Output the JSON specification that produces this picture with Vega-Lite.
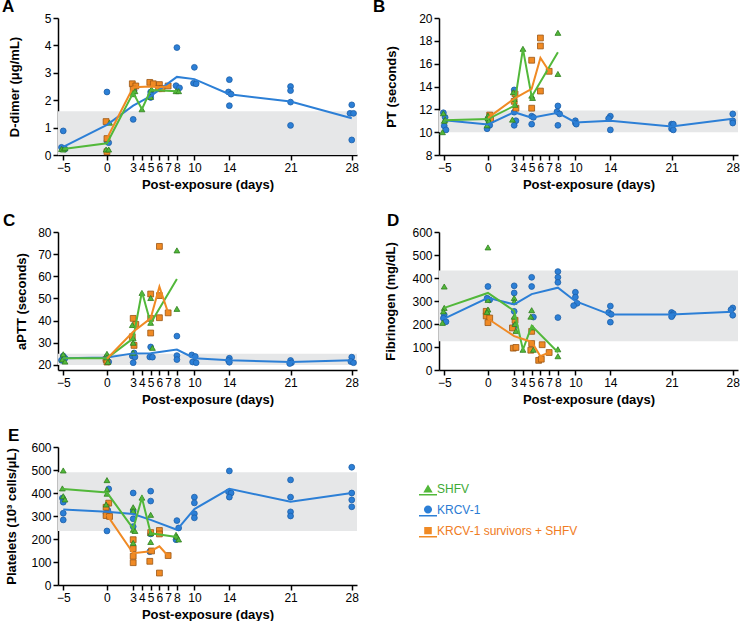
{
"$schema":"https://vega.github.io/schema/vega-lite/v6.json",
"padding":{"left":2,"top":-2,"right":0,"bottom":0},
"background":"white",
"config":{
 "view":{"stroke":null},
 "font":"Liberation Sans",
 "axis":{"grid":false,"domainColor":"#000","domainWidth":1.5,"tickColor":"#000","tickWidth":1.5,"tickSize":5,"labelColor":"#000","labelFont":"Liberation Sans","labelFontSize":12,"labelPadding":2,"titleFont":"Liberation Sans","titleFontSize":13,"titleFontWeight":"bold","titleColor":"#000","labelOverlap":false,"labelFlush":false},
 "axisX":{"titlePadding":5},
 "title":{"anchor":"start","frame":"group","font":"Liberation Sans","fontSize":17,"fontWeight":"bold","color":"#000","offset":-4}
},
"datasets":{
"bands":[{"p":"A","v":0,"v2":1.6},{"p":"B","v":10,"v2":11.9},{"p":"C","v":20,"v2":25},{"p":"D","v":125,"v2":433},{"p":"E","v":235,"v2":490}],
"pts":[
{"p":"A","g":"KRCV-1","d":-5,"v":0.88},{"p":"A","g":"KRCV-1","d":-5.2,"v":0.28},{"p":"A","g":"KRCV-1","d":-4.8,"v":0.22},{"p":"A","g":"KRCV-1","d":0,"v":2.3},{"p":"A","g":"KRCV-1","d":0,"v":0.5},{"p":"A","g":"KRCV-1","d":0.2,"v":0.45},{"p":"A","g":"KRCV-1","d":3,"v":1.3},{"p":"A","g":"KRCV-1","d":3.1,"v":2.35},{"p":"A","g":"KRCV-1","d":5,"v":2.3},{"p":"A","g":"KRCV-1","d":5,"v":2.2},{"p":"A","g":"KRCV-1","d":5,"v":2.1},{"p":"A","g":"KRCV-1","d":8,"v":3.92},{"p":"A","g":"KRCV-1","d":7.9,"v":2.53},{"p":"A","g":"KRCV-1","d":8.3,"v":2.45},{"p":"A","g":"KRCV-1","d":10,"v":3.2},{"p":"A","g":"KRCV-1","d":9.9,"v":2.62},{"p":"A","g":"KRCV-1","d":10.2,"v":2.6},{"p":"A","g":"KRCV-1","d":14,"v":2.75},{"p":"A","g":"KRCV-1","d":13.9,"v":2.3},{"p":"A","g":"KRCV-1","d":14.2,"v":2.22},{"p":"A","g":"KRCV-1","d":14,"v":1.8},{"p":"A","g":"KRCV-1","d":21,"v":2.5},{"p":"A","g":"KRCV-1","d":21,"v":2.35},{"p":"A","g":"KRCV-1","d":21,"v":1.93},{"p":"A","g":"KRCV-1","d":21,"v":1.08},{"p":"A","g":"KRCV-1","d":28,"v":1.83},{"p":"A","g":"KRCV-1","d":27.8,"v":1.52},{"p":"A","g":"KRCV-1","d":28.2,"v":1.52},{"p":"A","g":"KRCV-1","d":28,"v":0.55},
{"p":"A","g":"KRCV-1 survivors + SHFV","d":-0.1,"v":1.22},{"p":"A","g":"KRCV-1 survivors + SHFV","d":0,"v":0.6},{"p":"A","g":"KRCV-1 survivors + SHFV","d":0,"v":0.12},{"p":"A","g":"KRCV-1 survivors + SHFV","d":2.9,"v":2.6},{"p":"A","g":"KRCV-1 survivors + SHFV","d":3.3,"v":2.52},{"p":"A","g":"KRCV-1 survivors + SHFV","d":3,"v":2.4},{"p":"A","g":"KRCV-1 survivors + SHFV","d":4.9,"v":2.65},{"p":"A","g":"KRCV-1 survivors + SHFV","d":5.3,"v":2.6},{"p":"A","g":"KRCV-1 survivors + SHFV","d":6,"v":2.57},{"p":"A","g":"KRCV-1 survivors + SHFV","d":5.9,"v":2.42},{"p":"A","g":"KRCV-1 survivors + SHFV","d":6.3,"v":2.42},{"p":"A","g":"KRCV-1 survivors + SHFV","d":7,"v":2.52},
{"p":"A","g":"SHFV","d":-5.2,"v":0.22},{"p":"A","g":"SHFV","d":-5,"v":0.2},{"p":"A","g":"SHFV","d":-4.8,"v":0.25},{"p":"A","g":"SHFV","d":0.3,"v":1.18},{"p":"A","g":"SHFV","d":-0.1,"v":0.2},{"p":"A","g":"SHFV","d":0.2,"v":0.2},{"p":"A","g":"SHFV","d":2.9,"v":2.28},{"p":"A","g":"SHFV","d":3,"v":2.22},{"p":"A","g":"SHFV","d":3.2,"v":2.33},{"p":"A","g":"SHFV","d":4,"v":1.67},{"p":"A","g":"SHFV","d":5.1,"v":2.4},{"p":"A","g":"SHFV","d":5,"v":2.12},{"p":"A","g":"SHFV","d":7.9,"v":2.33},{"p":"A","g":"SHFV","d":8.2,"v":2.33},

{"p":"B","g":"KRCV-1","d":-5.1,"v":11.7},{"p":"B","g":"KRCV-1","d":-4.9,"v":11.3},{"p":"B","g":"KRCV-1","d":-5,"v":10.55},{"p":"B","g":"KRCV-1","d":-4.8,"v":10.2},{"p":"B","g":"KRCV-1","d":0,"v":11.17},{"p":"B","g":"KRCV-1","d":0.1,"v":10.7},{"p":"B","g":"KRCV-1","d":-0.1,"v":10.3},{"p":"B","g":"KRCV-1","d":0.2,"v":10.6},{"p":"B","g":"KRCV-1","d":3,"v":13.7},{"p":"B","g":"KRCV-1","d":3,"v":11.75},{"p":"B","g":"KRCV-1","d":3.2,"v":11.0},{"p":"B","g":"KRCV-1","d":3,"v":10.6},{"p":"B","g":"KRCV-1","d":5,"v":11.4},{"p":"B","g":"KRCV-1","d":5.2,"v":11.3},{"p":"B","g":"KRCV-1","d":5,"v":10.7},{"p":"B","g":"KRCV-1","d":8,"v":12.3},{"p":"B","g":"KRCV-1","d":7.9,"v":11.8},{"p":"B","g":"KRCV-1","d":8.2,"v":11.6},{"p":"B","g":"KRCV-1","d":8,"v":10.6},{"p":"B","g":"KRCV-1","d":10,"v":11.0},{"p":"B","g":"KRCV-1","d":10,"v":10.8},{"p":"B","g":"KRCV-1","d":10.1,"v":10.7},{"p":"B","g":"KRCV-1","d":14,"v":11.4},{"p":"B","g":"KRCV-1","d":13.8,"v":11.2},{"p":"B","g":"KRCV-1","d":14,"v":10.2},{"p":"B","g":"KRCV-1","d":21,"v":10.7},{"p":"B","g":"KRCV-1","d":21.2,"v":10.7},{"p":"B","g":"KRCV-1","d":21,"v":10.3},{"p":"B","g":"KRCV-1","d":21.2,"v":10.2},{"p":"B","g":"KRCV-1","d":28,"v":11.6},{"p":"B","g":"KRCV-1","d":28,"v":11.0},{"p":"B","g":"KRCV-1","d":28,"v":10.8},
{"p":"B","g":"KRCV-1 survivors + SHFV","d":0.2,"v":11.5},{"p":"B","g":"KRCV-1 survivors + SHFV","d":0.3,"v":11.1},{"p":"B","g":"KRCV-1 survivors + SHFV","d":3.1,"v":13.35},{"p":"B","g":"KRCV-1 survivors + SHFV","d":3,"v":12.7},{"p":"B","g":"KRCV-1 survivors + SHFV","d":3.2,"v":12.1},{"p":"B","g":"KRCV-1 survivors + SHFV","d":5,"v":16.3},{"p":"B","g":"KRCV-1 survivors + SHFV","d":5,"v":12.1},{"p":"B","g":"KRCV-1 survivors + SHFV","d":6,"v":18.25},{"p":"B","g":"KRCV-1 survivors + SHFV","d":6,"v":17.55},{"p":"B","g":"KRCV-1 survivors + SHFV","d":6,"v":13.6},{"p":"B","g":"KRCV-1 survivors + SHFV","d":7,"v":15.33},
{"p":"B","g":"SHFV","d":-5.1,"v":11.65},{"p":"B","g":"SHFV","d":-4.9,"v":11.1},{"p":"B","g":"SHFV","d":-5,"v":11.0},{"p":"B","g":"SHFV","d":-5.2,"v":10.0},{"p":"B","g":"SHFV","d":0,"v":11.45},{"p":"B","g":"SHFV","d":0,"v":11.2},{"p":"B","g":"SHFV","d":0.1,"v":11.0},{"p":"B","g":"SHFV","d":-0.1,"v":10.6},{"p":"B","g":"SHFV","d":2.9,"v":13.5},{"p":"B","g":"SHFV","d":3,"v":12.9},{"p":"B","g":"SHFV","d":3.1,"v":12.4},{"p":"B","g":"SHFV","d":2.8,"v":11.1},{"p":"B","g":"SHFV","d":4,"v":17.3},{"p":"B","g":"SHFV","d":5,"v":13.2},{"p":"B","g":"SHFV","d":5.1,"v":13.0},{"p":"B","g":"SHFV","d":8,"v":18.7},{"p":"B","g":"SHFV","d":8,"v":15.1},

{"p":"C","g":"KRCV-1","d":-5,"v":24},{"p":"C","g":"KRCV-1","d":-5.2,"v":22.1},{"p":"C","g":"KRCV-1","d":-4.8,"v":23},{"p":"C","g":"KRCV-1","d":0,"v":23.6},{"p":"C","g":"KRCV-1","d":-0.1,"v":22.1},{"p":"C","g":"KRCV-1","d":0.2,"v":21.4},{"p":"C","g":"KRCV-1","d":3.1,"v":25.4},{"p":"C","g":"KRCV-1","d":2.9,"v":24},{"p":"C","g":"KRCV-1","d":3.2,"v":23.6},{"p":"C","g":"KRCV-1","d":3,"v":21},{"p":"C","g":"KRCV-1","d":5,"v":28.1},{"p":"C","g":"KRCV-1","d":4.9,"v":23.6},{"p":"C","g":"KRCV-1","d":5.2,"v":23.5},{"p":"C","g":"KRCV-1","d":8,"v":33},{"p":"C","g":"KRCV-1","d":8,"v":24.2},{"p":"C","g":"KRCV-1","d":8,"v":22.4},{"p":"C","g":"KRCV-1","d":9.7,"v":24.5},{"p":"C","g":"KRCV-1","d":10.1,"v":23.8},{"p":"C","g":"KRCV-1","d":9.8,"v":21.3},{"p":"C","g":"KRCV-1","d":10.2,"v":21.0},{"p":"C","g":"KRCV-1","d":14,"v":23},{"p":"C","g":"KRCV-1","d":13.9,"v":22},{"p":"C","g":"KRCV-1","d":14,"v":21.2},{"p":"C","g":"KRCV-1","d":21,"v":22.0},{"p":"C","g":"KRCV-1","d":21.1,"v":21.0},{"p":"C","g":"KRCV-1","d":20.9,"v":20.6},{"p":"C","g":"KRCV-1","d":28,"v":23.5},{"p":"C","g":"KRCV-1","d":27.9,"v":21.5},{"p":"C","g":"KRCV-1","d":28.2,"v":21.0},
{"p":"C","g":"KRCV-1 survivors + SHFV","d":-0.1,"v":22.5},{"p":"C","g":"KRCV-1 survivors + SHFV","d":0,"v":21.3},{"p":"C","g":"KRCV-1 survivors + SHFV","d":3,"v":41},{"p":"C","g":"KRCV-1 survivors + SHFV","d":3.3,"v":38.3},{"p":"C","g":"KRCV-1 survivors + SHFV","d":2.9,"v":32.7},{"p":"C","g":"KRCV-1 survivors + SHFV","d":3.1,"v":28.8},{"p":"C","g":"KRCV-1 survivors + SHFV","d":5,"v":52},{"p":"C","g":"KRCV-1 survivors + SHFV","d":5,"v":41},{"p":"C","g":"KRCV-1 survivors + SHFV","d":5,"v":34.4},{"p":"C","g":"KRCV-1 survivors + SHFV","d":6,"v":73.5},{"p":"C","g":"KRCV-1 survivors + SHFV","d":6,"v":51.3},{"p":"C","g":"KRCV-1 survivors + SHFV","d":6,"v":41.3},{"p":"C","g":"KRCV-1 survivors + SHFV","d":7,"v":43.5},
{"p":"C","g":"SHFV","d":-5,"v":24.8},{"p":"C","g":"SHFV","d":-5.1,"v":22.5},{"p":"C","g":"SHFV","d":-4.8,"v":21.5},{"p":"C","g":"SHFV","d":0,"v":25},{"p":"C","g":"SHFV","d":0,"v":23.4},{"p":"C","g":"SHFV","d":0.1,"v":21.3},{"p":"C","g":"SHFV","d":2.9,"v":38},{"p":"C","g":"SHFV","d":3,"v":32},{"p":"C","g":"SHFV","d":3,"v":30},{"p":"C","g":"SHFV","d":3,"v":25.5},{"p":"C","g":"SHFV","d":4,"v":52.5},{"p":"C","g":"SHFV","d":5,"v":50.2},{"p":"C","g":"SHFV","d":5,"v":39},{"p":"C","g":"SHFV","d":5.2,"v":27.7},{"p":"C","g":"SHFV","d":8,"v":71.7},{"p":"C","g":"SHFV","d":8,"v":45.3},

{"p":"D","g":"KRCV-1","d":-5,"v":240},{"p":"D","g":"KRCV-1","d":-5.1,"v":225},{"p":"D","g":"KRCV-1","d":-4.8,"v":210},{"p":"D","g":"KRCV-1","d":0,"v":363},{"p":"D","g":"KRCV-1","d":-0.1,"v":312},{"p":"D","g":"KRCV-1","d":0.2,"v":305},{"p":"D","g":"KRCV-1","d":3,"v":366},{"p":"D","g":"KRCV-1","d":3,"v":335},{"p":"D","g":"KRCV-1","d":3,"v":255},{"p":"D","g":"KRCV-1","d":3.1,"v":193},{"p":"D","g":"KRCV-1","d":5,"v":403},{"p":"D","g":"KRCV-1","d":5,"v":363},{"p":"D","g":"KRCV-1","d":5.2,"v":230},{"p":"D","g":"KRCV-1","d":8,"v":428},{"p":"D","g":"KRCV-1","d":8,"v":403},{"p":"D","g":"KRCV-1","d":8,"v":381},{"p":"D","g":"KRCV-1","d":8,"v":228},{"p":"D","g":"KRCV-1","d":10,"v":338},{"p":"D","g":"KRCV-1","d":10,"v":317},{"p":"D","g":"KRCV-1","d":10.2,"v":290},{"p":"D","g":"KRCV-1","d":9.8,"v":280},{"p":"D","g":"KRCV-1","d":14,"v":278},{"p":"D","g":"KRCV-1","d":13.8,"v":250},{"p":"D","g":"KRCV-1","d":14.1,"v":242},{"p":"D","g":"KRCV-1","d":14,"v":208},{"p":"D","g":"KRCV-1","d":21,"v":250},{"p":"D","g":"KRCV-1","d":21.2,"v":245},{"p":"D","g":"KRCV-1","d":21.1,"v":238},{"p":"D","g":"KRCV-1","d":21,"v":232},{"p":"D","g":"KRCV-1","d":28,"v":270},{"p":"D","g":"KRCV-1","d":27.8,"v":262},{"p":"D","g":"KRCV-1","d":28,"v":238},
{"p":"D","g":"KRCV-1 survivors + SHFV","d":-0.2,"v":255},{"p":"D","g":"KRCV-1 survivors + SHFV","d":-0.2,"v":235},{"p":"D","g":"KRCV-1 survivors + SHFV","d":0.2,"v":226},{"p":"D","g":"KRCV-1 survivors + SHFV","d":0,"v":206},{"p":"D","g":"KRCV-1 survivors + SHFV","d":2.8,"v":183},{"p":"D","g":"KRCV-1 survivors + SHFV","d":3.1,"v":216},{"p":"D","g":"KRCV-1 survivors + SHFV","d":2.9,"v":95},{"p":"D","g":"KRCV-1 survivors + SHFV","d":3.2,"v":98},{"p":"D","g":"KRCV-1 survivors + SHFV","d":5,"v":168},{"p":"D","g":"KRCV-1 survivors + SHFV","d":5,"v":115},{"p":"D","g":"KRCV-1 survivors + SHFV","d":4.9,"v":86},{"p":"D","g":"KRCV-1 survivors + SHFV","d":5.8,"v":42},{"p":"D","g":"KRCV-1 survivors + SHFV","d":6.1,"v":47},{"p":"D","g":"KRCV-1 survivors + SHFV","d":6.2,"v":110},{"p":"D","g":"KRCV-1 survivors + SHFV","d":7,"v":76},
{"p":"D","g":"SHFV","d":-5,"v":363},{"p":"D","g":"SHFV","d":-5,"v":270},{"p":"D","g":"SHFV","d":-5.1,"v":255},{"p":"D","g":"SHFV","d":-5.2,"v":205},{"p":"D","g":"SHFV","d":0,"v":533},{"p":"D","g":"SHFV","d":0,"v":305},{"p":"D","g":"SHFV","d":0,"v":263},{"p":"D","g":"SHFV","d":-0.1,"v":252},{"p":"D","g":"SHFV","d":3,"v":313},{"p":"D","g":"SHFV","d":3,"v":297},{"p":"D","g":"SHFV","d":3,"v":232},{"p":"D","g":"SHFV","d":3.1,"v":200},{"p":"D","g":"SHFV","d":3.2,"v":170},{"p":"D","g":"SHFV","d":4,"v":88},{"p":"D","g":"SHFV","d":5,"v":260},{"p":"D","g":"SHFV","d":4.9,"v":232},{"p":"D","g":"SHFV","d":5.1,"v":185},{"p":"D","g":"SHFV","d":5.2,"v":88},{"p":"D","g":"SHFV","d":8,"v":90},{"p":"D","g":"SHFV","d":8,"v":60},

{"p":"E","g":"KRCV-1","d":-5.1,"v":378},{"p":"E","g":"KRCV-1","d":-5,"v":360},{"p":"E","g":"KRCV-1","d":-5,"v":312},{"p":"E","g":"KRCV-1","d":-5,"v":283},{"p":"E","g":"KRCV-1","d":0.2,"v":418},{"p":"E","g":"KRCV-1","d":0.1,"v":325},{"p":"E","g":"KRCV-1","d":-0.1,"v":312},{"p":"E","g":"KRCV-1","d":0,"v":235},{"p":"E","g":"KRCV-1","d":3,"v":400},{"p":"E","g":"KRCV-1","d":3,"v":322},{"p":"E","g":"KRCV-1","d":3,"v":288},{"p":"E","g":"KRCV-1","d":3,"v":254},{"p":"E","g":"KRCV-1","d":5,"v":408},{"p":"E","g":"KRCV-1","d":5,"v":365},{"p":"E","g":"KRCV-1","d":5,"v":222},{"p":"E","g":"KRCV-1","d":4.9,"v":145},{"p":"E","g":"KRCV-1","d":8,"v":280},{"p":"E","g":"KRCV-1","d":8.2,"v":248},{"p":"E","g":"KRCV-1","d":7.9,"v":197},{"p":"E","g":"KRCV-1","d":10,"v":382},{"p":"E","g":"KRCV-1","d":10,"v":357},{"p":"E","g":"KRCV-1","d":10,"v":310},{"p":"E","g":"KRCV-1","d":10,"v":292},{"p":"E","g":"KRCV-1","d":14,"v":496},{"p":"E","g":"KRCV-1","d":13.9,"v":405},{"p":"E","g":"KRCV-1","d":14.2,"v":400},{"p":"E","g":"KRCV-1","d":14,"v":382},{"p":"E","g":"KRCV-1","d":21,"v":457},{"p":"E","g":"KRCV-1","d":21,"v":382},{"p":"E","g":"KRCV-1","d":21,"v":318},{"p":"E","g":"KRCV-1","d":21,"v":300},{"p":"E","g":"KRCV-1","d":28,"v":512},{"p":"E","g":"KRCV-1","d":28,"v":400},{"p":"E","g":"KRCV-1","d":28,"v":370},{"p":"E","g":"KRCV-1","d":28,"v":340},
{"p":"E","g":"KRCV-1 survivors + SHFV","d":0.2,"v":356},{"p":"E","g":"KRCV-1 survivors + SHFV","d":-0.1,"v":338},{"p":"E","g":"KRCV-1 survivors + SHFV","d":-0.1,"v":302},{"p":"E","g":"KRCV-1 survivors + SHFV","d":0.3,"v":298},{"p":"E","g":"KRCV-1 survivors + SHFV","d":3,"v":197},{"p":"E","g":"KRCV-1 survivors + SHFV","d":3,"v":158},{"p":"E","g":"KRCV-1 survivors + SHFV","d":3,"v":125},{"p":"E","g":"KRCV-1 survivors + SHFV","d":3,"v":97},{"p":"E","g":"KRCV-1 survivors + SHFV","d":5,"v":228},{"p":"E","g":"KRCV-1 survivors + SHFV","d":5.1,"v":148},{"p":"E","g":"KRCV-1 survivors + SHFV","d":4.9,"v":103},{"p":"E","g":"KRCV-1 survivors + SHFV","d":6,"v":237},{"p":"E","g":"KRCV-1 survivors + SHFV","d":6,"v":222},{"p":"E","g":"KRCV-1 survivors + SHFV","d":6,"v":52},{"p":"E","g":"KRCV-1 survivors + SHFV","d":7,"v":128},
{"p":"E","g":"SHFV","d":-5,"v":498},{"p":"E","g":"SHFV","d":-5.1,"v":420},{"p":"E","g":"SHFV","d":-5,"v":386},{"p":"E","g":"SHFV","d":-4.8,"v":372},{"p":"E","g":"SHFV","d":0,"v":456},{"p":"E","g":"SHFV","d":0,"v":415},{"p":"E","g":"SHFV","d":0,"v":397},{"p":"E","g":"SHFV","d":-0.1,"v":350},{"p":"E","g":"SHFV","d":3,"v":338},{"p":"E","g":"SHFV","d":3,"v":322},{"p":"E","g":"SHFV","d":3,"v":240},{"p":"E","g":"SHFV","d":3.2,"v":235},{"p":"E","g":"SHFV","d":3,"v":183},{"p":"E","g":"SHFV","d":4,"v":380},{"p":"E","g":"SHFV","d":5,"v":305},{"p":"E","g":"SHFV","d":5,"v":225},{"p":"E","g":"SHFV","d":5,"v":187},{"p":"E","g":"SHFV","d":7.9,"v":218},{"p":"E","g":"SHFV","d":8,"v":210},{"p":"E","g":"SHFV","d":8.2,"v":198}
],
"means":[
{"p":"A","g":"KRCV-1","d":-5,"v":0.3},{"p":"A","g":"KRCV-1","d":0,"v":1.1},{"p":"A","g":"KRCV-1","d":3,"v":1.8},{"p":"A","g":"KRCV-1","d":5,"v":2.15},{"p":"A","g":"KRCV-1","d":8,"v":2.85},{"p":"A","g":"KRCV-1","d":10,"v":2.77},{"p":"A","g":"KRCV-1","d":14,"v":2.22},{"p":"A","g":"KRCV-1","d":21,"v":1.95},{"p":"A","g":"KRCV-1","d":28,"v":1.34},
{"p":"A","g":"SHFV","d":-5,"v":0.22},{"p":"A","g":"SHFV","d":0,"v":0.43},{"p":"A","g":"SHFV","d":3,"v":2.27},{"p":"A","g":"SHFV","d":4,"v":1.67},{"p":"A","g":"SHFV","d":5,"v":2.37},{"p":"A","g":"SHFV","d":8,"v":2.33},
{"p":"A","g":"KRCV-1 survivors + SHFV","d":0,"v":0.6},{"p":"A","g":"KRCV-1 survivors + SHFV","d":3,"v":2.47},{"p":"A","g":"KRCV-1 survivors + SHFV","d":5,"v":2.5},{"p":"A","g":"KRCV-1 survivors + SHFV","d":6,"v":2.47},{"p":"A","g":"KRCV-1 survivors + SHFV","d":7,"v":2.5},
{"p":"B","g":"KRCV-1","d":-5,"v":11.05},{"p":"B","g":"KRCV-1","d":0,"v":10.67},{"p":"B","g":"KRCV-1","d":3,"v":11.75},{"p":"B","g":"KRCV-1","d":5,"v":11.26},{"p":"B","g":"KRCV-1","d":8,"v":11.7},{"p":"B","g":"KRCV-1","d":10,"v":10.85},{"p":"B","g":"KRCV-1","d":14,"v":11.0},{"p":"B","g":"KRCV-1","d":21,"v":10.5},{"p":"B","g":"KRCV-1","d":28,"v":11.17},
{"p":"B","g":"SHFV","d":-5,"v":11.05},{"p":"B","g":"SHFV","d":0,"v":11.15},{"p":"B","g":"SHFV","d":3,"v":12.3},{"p":"B","g":"SHFV","d":4,"v":17.3},{"p":"B","g":"SHFV","d":5,"v":13.1},{"p":"B","g":"SHFV","d":8,"v":17.0},
{"p":"B","g":"KRCV-1 survivors + SHFV","d":0,"v":11.25},{"p":"B","g":"KRCV-1 survivors + SHFV","d":3,"v":12.93},{"p":"B","g":"KRCV-1 survivors + SHFV","d":5,"v":13.8},{"p":"B","g":"KRCV-1 survivors + SHFV","d":6,"v":16.5},{"p":"B","g":"KRCV-1 survivors + SHFV","d":7,"v":15.33},
{"p":"C","g":"KRCV-1","d":-5,"v":23.0},{"p":"C","g":"KRCV-1","d":0,"v":23.3},{"p":"C","g":"KRCV-1","d":3,"v":25.2},{"p":"C","g":"KRCV-1","d":5,"v":25.3},{"p":"C","g":"KRCV-1","d":8,"v":26.9},{"p":"C","g":"KRCV-1","d":10,"v":23.0},{"p":"C","g":"KRCV-1","d":14,"v":22.1},{"p":"C","g":"KRCV-1","d":21,"v":21.3},{"p":"C","g":"KRCV-1","d":28,"v":22.1},
{"p":"C","g":"SHFV","d":-5,"v":23.0},{"p":"C","g":"SHFV","d":0,"v":23.0},{"p":"C","g":"SHFV","d":3,"v":32},{"p":"C","g":"SHFV","d":4,"v":53},{"p":"C","g":"SHFV","d":5,"v":38.8},{"p":"C","g":"SHFV","d":8,"v":58.8},
{"p":"C","g":"KRCV-1 survivors + SHFV","d":0,"v":22.8},{"p":"C","g":"KRCV-1 survivors + SHFV","d":3,"v":35},{"p":"C","g":"KRCV-1 survivors + SHFV","d":5,"v":41},{"p":"C","g":"KRCV-1 survivors + SHFV","d":6,"v":55.3},{"p":"C","g":"KRCV-1 survivors + SHFV","d":7,"v":43.5},
{"p":"D","g":"KRCV-1","d":-5,"v":223},{"p":"D","g":"KRCV-1","d":0,"v":314},{"p":"D","g":"KRCV-1","d":3,"v":285},{"p":"D","g":"KRCV-1","d":5,"v":330},{"p":"D","g":"KRCV-1","d":8,"v":358},{"p":"D","g":"KRCV-1","d":10,"v":299},{"p":"D","g":"KRCV-1","d":14,"v":241},{"p":"D","g":"KRCV-1","d":21,"v":241},{"p":"D","g":"KRCV-1","d":28,"v":253},
{"p":"D","g":"SHFV","d":-5,"v":270},{"p":"D","g":"SHFV","d":0,"v":335},{"p":"D","g":"SHFV","d":3,"v":257},{"p":"D","g":"SHFV","d":4,"v":88},{"p":"D","g":"SHFV","d":5,"v":192},{"p":"D","g":"SHFV","d":8,"v":77},
{"p":"D","g":"KRCV-1 survivors + SHFV","d":0,"v":223},{"p":"D","g":"KRCV-1 survivors + SHFV","d":3,"v":147},{"p":"D","g":"KRCV-1 survivors + SHFV","d":5,"v":122},{"p":"D","g":"KRCV-1 survivors + SHFV","d":6,"v":60},{"p":"D","g":"KRCV-1 survivors + SHFV","d":7,"v":76},
{"p":"E","g":"KRCV-1","d":-5,"v":328},{"p":"E","g":"KRCV-1","d":0,"v":318},{"p":"E","g":"KRCV-1","d":3,"v":309},{"p":"E","g":"KRCV-1","d":5,"v":283},{"p":"E","g":"KRCV-1","d":8,"v":240},{"p":"E","g":"KRCV-1","d":10,"v":330},{"p":"E","g":"KRCV-1","d":14,"v":418},{"p":"E","g":"KRCV-1","d":21,"v":362},{"p":"E","g":"KRCV-1","d":28,"v":400},
{"p":"E","g":"SHFV","d":-5,"v":417},{"p":"E","g":"SHFV","d":0,"v":402},{"p":"E","g":"SHFV","d":3,"v":245},{"p":"E","g":"SHFV","d":4,"v":379},{"p":"E","g":"SHFV","d":5,"v":225},{"p":"E","g":"SHFV","d":8,"v":209},
{"p":"E","g":"KRCV-1 survivors + SHFV","d":0,"v":305},{"p":"E","g":"KRCV-1 survivors + SHFV","d":3,"v":138},{"p":"E","g":"KRCV-1 survivors + SHFV","d":5,"v":147},{"p":"E","g":"KRCV-1 survivors + SHFV","d":6,"v":168},{"p":"E","g":"KRCV-1 survivors + SHFV","d":7,"v":126}
]
},
"columns":2,
"spacing":{"row":77,"column":82},
"bounds":"flush",
"concat":[
 {"width":299,"height":137,"title":{"text":"A","dx":-56},
  "encoding":{"y":{"field":"v","type":"quantitative","title":"D-dimer (μg/mL)","scale":{"domain":[0,5],"nice":false,"zero":false},"axis":{"values":[0,1,2,3,4,5],"titlePadding":23}}},
  "layer":[
   {"data":{"name":"bands"},"transform":[{"filter":"datum.p=='A'"}],"mark":{"type":"rect","color":"#e6e7e8"},"encoding":{"y2":{"field":"v2"}}},
   {"data":{"name":"pts"},"transform":[{"filter":"datum.p=='A'"}],"mark":{"type":"point","filled":true,"size":34,"strokeWidth":0.8,"opacity":1},
    "encoding":{"x":{"field":"d","type":"quantitative","title":"Post-exposure (days)","scale":{"domain":[-5.6,28.6],"nice":false,"zero":false},"axis":{"values":[-5,0,3,4,5,6,7,8,10,14,21,28]}},
     "color":{"field":"g","type":"nominal","scale":{"domain":["SHFV","KRCV-1","KRCV-1 survivors + SHFV"],"range":["#52b83a","#2c7fd6","#f08a24"]},
      "legend":{"orient":"none","legendX":361,"legendY":462,"title":null,"symbolSize":324,"symbolStrokeWidth":0,"labelFont":"Liberation Sans","labelFontSize":12,"labelOffset":0,"rowPadding":5,"padding":0,
       "symbolType":{"expr":"datum.value === 'SHFV' ? 'M0,-0.5L0.52,0.38L-0.52,0.38Z M-1,0.55L1,0.55L1,0.72L-1,0.72Z' : datum.value === 'KRCV-1' ? 'M-0.45,-0.05A0.45,0.45 0 1,0 0.45,-0.05A0.45,0.45 0 1,0 -0.45,-0.05Z M-1,0.55L1,0.55L1,0.72L-1,0.72Z' : 'M-0.42,-0.45L0.42,-0.45L0.42,0.35L-0.42,0.35Z M-1,0.55L1,0.55L1,0.72L-1,0.72Z'"},
       "labelColor":{"expr":"datum.value === 'SHFV' ? '#3daa35' : datum.value === 'KRCV-1' ? '#2b7bd3' : '#f07c22'"}}},
     "shape":{"field":"g","type":"nominal","scale":{"domain":["KRCV-1","SHFV","KRCV-1 survivors + SHFV"],"range":["circle","triangle-up","square"]},"legend":null},
     "stroke":{"field":"g","type":"nominal","scale":{"domain":["KRCV-1 survivors + SHFV","KRCV-1","SHFV"],"range":["#9a5513","#1d5fa8","#2e7d1e"]},"legend":null}}},
   {"data":{"name":"means"},"transform":[{"filter":"datum.p=='A'"}],"mark":{"type":"line","strokeWidth":2},
    "encoding":{"x":{"field":"d","type":"quantitative","title":"Post-exposure (days)","scale":{"domain":[-5.6,28.6],"nice":false,"zero":false},"axis":{"values":[-5,0,3,4,5,6,7,8,10,14,21,28]}},
     "color":{"field":"g","type":"nominal","scale":{"domain":["SHFV","KRCV-1","KRCV-1 survivors + SHFV"],"range":["#52b83a","#2c7fd6","#f08a24"]}}}}
  ]},
 {"width":299,"height":137,"title":{"text":"B","dx":-66},
  "encoding":{"y":{"field":"v","type":"quantitative","title":"PT (seconds)","scale":{"domain":[8,20],"nice":false,"zero":false},"axis":{"values":[8,10,12,14,16,18,20],"titlePadding":20}}},
  "layer":[
   {"data":{"name":"bands"},"transform":[{"filter":"datum.p=='B'"}],"mark":{"type":"rect","color":"#e6e7e8"},"encoding":{"y2":{"field":"v2"}}},
   {"data":{"name":"pts"},"transform":[{"filter":"datum.p=='B'"}],"mark":{"type":"point","filled":true,"size":34,"strokeWidth":0.8,"opacity":1},
    "encoding":{"x":{"field":"d","type":"quantitative","title":"Post-exposure (days)","scale":{"domain":[-5.6,28.6],"nice":false,"zero":false},"axis":{"values":[-5,0,3,4,5,6,7,8,10,14,21,28]}},
     "color":{"field":"g","type":"nominal","scale":{"domain":["SHFV","KRCV-1","KRCV-1 survivors + SHFV"],"range":["#52b83a","#2c7fd6","#f08a24"]}},
     "shape":{"field":"g","type":"nominal","scale":{"domain":["KRCV-1","SHFV","KRCV-1 survivors + SHFV"],"range":["circle","triangle-up","square"]},"legend":null},
     "stroke":{"field":"g","type":"nominal","scale":{"domain":["KRCV-1 survivors + SHFV","KRCV-1","SHFV"],"range":["#9a5513","#1d5fa8","#2e7d1e"]},"legend":null}}},
   {"data":{"name":"means"},"transform":[{"filter":"datum.p=='B'"}],"mark":{"type":"line","strokeWidth":2},
    "encoding":{"x":{"field":"d","type":"quantitative","title":"Post-exposure (days)","scale":{"domain":[-5.6,28.6],"nice":false,"zero":false},"axis":{"values":[-5,0,3,4,5,6,7,8,10,14,21,28]}},
     "color":{"field":"g","type":"nominal","scale":{"domain":["SHFV","KRCV-1","KRCV-1 survivors + SHFV"],"range":["#52b83a","#2c7fd6","#f08a24"]}}}}
  ]},
 {"width":299,"height":138,"title":{"text":"C","dx":-55},
  "encoding":{"y":{"field":"v","type":"quantitative","title":"aPTT (seconds)","scale":{"domain":[17.7,80],"nice":false,"zero":false},"axis":{"values":[20,30,40,50,60,70,80],"titlePadding":9}}},
  "layer":[
   {"data":{"name":"bands"},"transform":[{"filter":"datum.p=='C'"}],"mark":{"type":"rect","color":"#e6e7e8"},"encoding":{"y2":{"field":"v2"}}},
   {"data":{"name":"pts"},"transform":[{"filter":"datum.p=='C'"}],"mark":{"type":"point","filled":true,"size":34,"strokeWidth":0.8,"opacity":1},
    "encoding":{"x":{"field":"d","type":"quantitative","title":"Post-exposure (days)","scale":{"domain":[-5.6,28.6],"nice":false,"zero":false},"axis":{"values":[-5,0,3,4,5,6,7,8,10,14,21,28]}},
     "color":{"field":"g","type":"nominal","scale":{"domain":["SHFV","KRCV-1","KRCV-1 survivors + SHFV"],"range":["#52b83a","#2c7fd6","#f08a24"]}},
     "shape":{"field":"g","type":"nominal","scale":{"domain":["KRCV-1","SHFV","KRCV-1 survivors + SHFV"],"range":["circle","triangle-up","square"]},"legend":null},
     "stroke":{"field":"g","type":"nominal","scale":{"domain":["KRCV-1 survivors + SHFV","KRCV-1","SHFV"],"range":["#9a5513","#1d5fa8","#2e7d1e"]},"legend":null}}},
   {"data":{"name":"means"},"transform":[{"filter":"datum.p=='C'"}],"mark":{"type":"line","strokeWidth":2},
    "encoding":{"x":{"field":"d","type":"quantitative","title":"Post-exposure (days)","scale":{"domain":[-5.6,28.6],"nice":false,"zero":false},"axis":{"values":[-5,0,3,4,5,6,7,8,10,14,21,28]}},
     "color":{"field":"g","type":"nominal","scale":{"domain":["SHFV","KRCV-1","KRCV-1 survivors + SHFV"],"range":["#52b83a","#2c7fd6","#f08a24"]}}}}
  ]},
 {"width":299,"height":138,"title":{"text":"D","dx":-52},
  "encoding":{"y":{"field":"v","type":"quantitative","title":"Fibrinogen (mg/dL)","scale":{"domain":[0,600],"nice":false,"zero":false},"axis":{"values":[0,100,200,300,400,500,600],"titlePadding":14}}},
  "layer":[
   {"data":{"name":"bands"},"transform":[{"filter":"datum.p=='D'"}],"mark":{"type":"rect","color":"#e6e7e8"},"encoding":{"y2":{"field":"v2"}}},
   {"data":{"name":"pts"},"transform":[{"filter":"datum.p=='D'"}],"mark":{"type":"point","filled":true,"size":34,"strokeWidth":0.8,"opacity":1},
    "encoding":{"x":{"field":"d","type":"quantitative","title":"Post-exposure (days)","scale":{"domain":[-5.6,28.6],"nice":false,"zero":false},"axis":{"values":[-5,0,3,4,5,6,7,8,10,14,21,28]}},
     "color":{"field":"g","type":"nominal","scale":{"domain":["SHFV","KRCV-1","KRCV-1 survivors + SHFV"],"range":["#52b83a","#2c7fd6","#f08a24"]}},
     "shape":{"field":"g","type":"nominal","scale":{"domain":["KRCV-1","SHFV","KRCV-1 survivors + SHFV"],"range":["circle","triangle-up","square"]},"legend":null},
     "stroke":{"field":"g","type":"nominal","scale":{"domain":["KRCV-1 survivors + SHFV","KRCV-1","SHFV"],"range":["#9a5513","#1d5fa8","#2e7d1e"]},"legend":null}}},
   {"data":{"name":"means"},"transform":[{"filter":"datum.p=='D'"}],"mark":{"type":"line","strokeWidth":2},
    "encoding":{"x":{"field":"d","type":"quantitative","title":"Post-exposure (days)","scale":{"domain":[-5.6,28.6],"nice":false,"zero":false},"axis":{"values":[-5,0,3,4,5,6,7,8,10,14,21,28]}},
     "color":{"field":"g","type":"nominal","scale":{"domain":["SHFV","KRCV-1","KRCV-1 survivors + SHFV"],"range":["#52b83a","#2c7fd6","#f08a24"]}}}}
  ]},
 {"width":299,"height":138,"title":{"text":"E","dx":-50},
  "encoding":{"y":{"field":"v","type":"quantitative","title":"Platelets (10³ cells/μL)","scale":{"domain":[0,600],"nice":false,"zero":false},"axis":{"values":[0,100,200,300,400,500,600],"titlePadding":12}}},
  "layer":[
   {"data":{"name":"bands"},"transform":[{"filter":"datum.p=='E'"}],"mark":{"type":"rect","color":"#e6e7e8"},"encoding":{"y2":{"field":"v2"}}},
   {"data":{"name":"pts"},"transform":[{"filter":"datum.p=='E'"}],"mark":{"type":"point","filled":true,"size":34,"strokeWidth":0.8,"opacity":1},
    "encoding":{"x":{"field":"d","type":"quantitative","title":"Post-exposure (days)","scale":{"domain":[-5.6,28.6],"nice":false,"zero":false},"axis":{"values":[-5,0,3,4,5,6,7,8,10,14,21,28]}},
     "color":{"field":"g","type":"nominal","scale":{"domain":["SHFV","KRCV-1","KRCV-1 survivors + SHFV"],"range":["#52b83a","#2c7fd6","#f08a24"]}},
     "shape":{"field":"g","type":"nominal","scale":{"domain":["KRCV-1","SHFV","KRCV-1 survivors + SHFV"],"range":["circle","triangle-up","square"]},"legend":null},
     "stroke":{"field":"g","type":"nominal","scale":{"domain":["KRCV-1 survivors + SHFV","KRCV-1","SHFV"],"range":["#9a5513","#1d5fa8","#2e7d1e"]},"legend":null}}},
   {"data":{"name":"means"},"transform":[{"filter":"datum.p=='E'"}],"mark":{"type":"line","strokeWidth":2},
    "encoding":{"x":{"field":"d","type":"quantitative","title":"Post-exposure (days)","scale":{"domain":[-5.6,28.6],"nice":false,"zero":false},"axis":{"values":[-5,0,3,4,5,6,7,8,10,14,21,28]}},
     "color":{"field":"g","type":"nominal","scale":{"domain":["SHFV","KRCV-1","KRCV-1 survivors + SHFV"],"range":["#52b83a","#2c7fd6","#f08a24"]}}}}
  ]}
]
}
